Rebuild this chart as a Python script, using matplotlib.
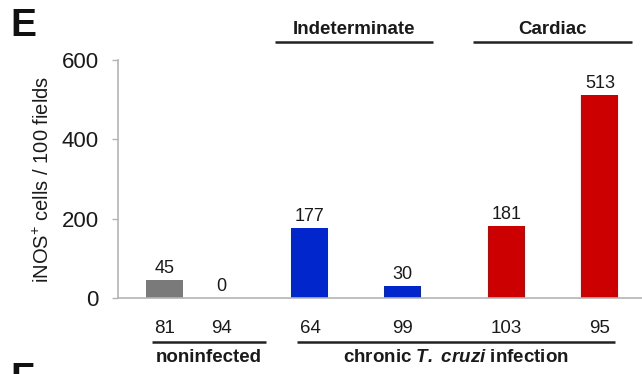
import matplotlib
matplotlib.use("Agg")
from matplotlib import pyplot as plt

plt.rcParams['font.family'] = ['Liberation Sans', 'DejaVu Sans']
plt.rcParams['mathtext.fontset'] = 'custom'
plt.rcParams['mathtext.rm'] = 'Liberation Sans'
plt.rcParams['mathtext.it'] = 'Liberation Sans:italic'
plt.rcParams['mathtext.bf'] = 'Liberation Sans:bold'
plt.rcParams['mathtext.bfit'] = 'Liberation Sans:italic:bold'

# data
values = [45, 0, 177, 30, 181, 513]
n_labels = ["81", "94", "64", "99", "103", "95"]
bar_colors = ["#7a7a7a", "#7a7a7a", "#0026cc", "#0026cc", "#cc0000", "#cc0000"]
y_ticks = [0, 200, 400, 600]

# layout
x_pos = [0.82, 1.82, 3.37, 5.0, 6.82, 8.46]
txt = "#1a1a1a"
axis_col = "#b4b4b4"

fig = plt.figure(figsize=(6.42, 3.74), dpi=100)
W, H = 642, 374
ax = fig.add_axes([118 / W, (H - 298) / H, (642 - 118) / W, (298 - 60) / H])

ax.bar(x_pos, values, width=0.65, color=bar_colors, zorder=2)
for x, v in zip(x_pos, values):
    ax.annotate(str(v), (x, v), xytext=(0, 2), textcoords="offset points",
                ha="center", va="bottom", fontsize=13, color=txt)

ax.set_xlim(0, 9.2)
ax.set_ylim(0, 600)
ax.set_yticks(y_ticks)
ax.set_xticks([])
ax.tick_params(axis="y", labelsize=16, labelcolor=txt, color=axis_col,
               length=4, width=1, pad=10)
for s in ["top", "right"]:
    ax.spines[s].set_visible(False)
for s in ["left", "bottom"]:
    ax.spines[s].set_color(axis_col)
    ax.spines[s].set_linewidth(1.2)

ax.set_ylabel("iNOS$^{+}$ cells / 100 fields", fontsize=14.5, color=txt,
              labelpad=6)

# n labels under bars
for x, n in zip(x_pos, n_labels):
    ax.text(x, -78, n, ha="center", va="center", fontsize=13.5, color=txt,
            clip_on=False)

# group annotations
def bracket(x0, x1, y_line, y_text, label):
    ax.plot([x0, x1], [y_line, y_line], color="#222222", lw=1.8,
            clip_on=False, solid_capstyle="butt")
    ax.text((x0 + x1) / 2, y_text, label, ha="center", va="center",
            fontsize=13.5, fontweight="bold", color=txt, clip_on=False)

bracket(2.75, 5.53, 645, 678, "Indeterminate")
bracket(6.23, 9.02, 645, 678, "Cardiac")
bracket(0.6, 2.6, -111, -151, "noninfected")
bracket(3.14, 8.72, -111, -151,
        r"chronic $\mathbfit{T.}$ $\mathbfit{cruzi}$ infection")

fig.text(10 / W, 1 - 26 / H, "E", fontsize=28, fontweight="bold",
         va="center", ha="left", color="#111111")
fig.text(10 / W, 1 - 380 / H, "F", fontsize=28, fontweight="bold",
         va="center", ha="left", color="#111111")

fig.savefig("out.png", dpi=100)
